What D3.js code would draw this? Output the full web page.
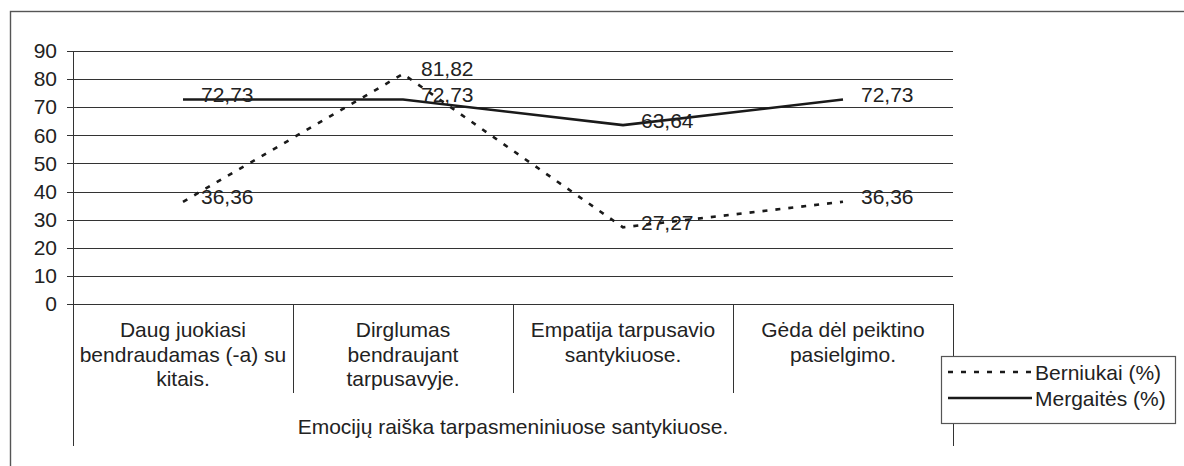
<!DOCTYPE html>
<html>
<head>
<meta charset="utf-8">
<script src="https://cdn.jsdelivr.net/npm/d3@7"></script>
<style>
  body { margin: 0; background: #fff; }
  svg text { font-family: "Liberation Sans", Arial, sans-serif; fill: #222; }
</style>
</head>
<body>
<div id="chart"></div>
<script>
// categories (one label per line)
var categories = [
	["Daug juokiasi", "bendraudamas (-a) su", "kitais."],
	["Dirglumas", "bendraujant", "tarpusavyje."],
	["Empatija tarpusavio", "santykiuose."],
	["Gėda dėl peiktino", "pasielgimo."]
];
var groupLabel = "Emocijų raiška tarpasmeniniuose santykiuose.";

var berniukai = [36.36, 81.82, 27.27, 36.36];
var mergaites = [72.73, 72.73, 63.64, 72.73];
var seriesNames = ["Berniukai (%)", "Mergaitės (%)"];
var yTicks = [0, 10, 20, 30, 40, 50, 60, 70, 80, 90];

var width = 1184,
	height = 466;

var svg = d3.select("#chart")
	.append("svg")
	.attr("width", width)
	.attr("height", height);

// outer frame (cut off on the right and bottom)
svg.append("rect")
	.attr("x", 10.5).attr("y", 11.5)
	.attr("width", 1300).attr("height", 600)
	.attr("fill", "none")
	.attr("stroke", "#555")
	.attr("stroke-width", 1.4);

var x = d3.scaleBand()
	.domain(d3.range(categories.length))
	.range([73, 953])
	.padding(0);

var y = d3.scaleLinear()
	.domain([0, 90])
	.range([304, 51]);

// grid lines
svg.append("g")
	.selectAll("line")
	.data(yTicks)
	.enter()
	.append("line")
	.attr("x1", 67).attr("x2", 953)
	.attr("y1", function(d){ return Math.round(y(d)) + 0.5; })
	.attr("y2", function(d){ return Math.round(y(d)) + 0.5; })
	.attr("stroke", "#333")
	.attr("stroke-width", 1);

// y tick labels
var yAxis = svg.append("g")
	.attr("transform", "translate(73,0)")
	.call(d3.axisLeft(y).tickValues(yTicks).tickSize(0).tickPadding(16));
yAxis.select(".domain").remove();
yAxis.selectAll("text")
	.attr("font-size", 21)
	.attr("dy", "0.32em")
	.style("font-family", "'Liberation Sans', Arial, sans-serif")
	.attr("fill", "#222");

// axis lines
svg.append("line")
	.attr("x1", 73.5).attr("x2", 73.5)
	.attr("y1", y(90)).attr("y2", 446)
	.attr("stroke", "#333");
svg.append("line")
	.attr("x1", 953.5).attr("x2", 953.5)
	.attr("y1", y(0)).attr("y2", 446)
	.attr("stroke", "#333");

// category dividers
svg.append("g")
	.selectAll("line")
	.data(d3.range(1, categories.length))
	.enter()
	.append("line")
	.attr("x1", function(d){ return Math.round(x(d)) + 0.5; })
	.attr("x2", function(d){ return Math.round(x(d)) + 0.5; })
	.attr("y1", y(0)).attr("y2", 393)
	.attr("stroke", "#333");

// category labels
svg.append("g")
	.selectAll("text")
	.data(categories)
	.enter()
	.append("text")
	.attr("text-anchor", "middle")
	.attr("font-size", 21)
	.each(function(d, i){
		var t = d3.select(this);
		d.forEach(function(line, j){
			t.append("tspan")
				.attr("x", x(i) + x.bandwidth()/2)
				.attr("y", 337 + j*24.5)
				.text(line);
		});
	});

svg.append("text")
	.attr("x", (x.range()[0] + x.range()[1]) / 2)
	.attr("y", 434)
	.attr("text-anchor", "middle")
	.attr("font-size", 21)
	.text(groupLabel);

// lines
var cx = function(d, i){ return x(i) + x.bandwidth()/2; };
var line = d3.line()
	.x(cx)
	.y(function(d){ return y(d); });

svg.append("path")
	.datum(berniukai)
	.attr("d", line)
	.attr("fill", "none")
	.attr("stroke", "#1a1a1a")
	.attr("stroke-width", 2.6)
	.attr("stroke-dasharray", "5,8");

svg.append("path")
	.datum(mergaites)
	.attr("d", line)
	.attr("fill", "none")
	.attr("stroke", "#1a1a1a")
	.attr("stroke-width", 2.6);

// data labels
function fmt(v){ return v.toFixed(2).replace(".", ","); }
[berniukai, mergaites].forEach(function(series){
	svg.append("g")
		.selectAll("text")
		.data(series)
		.enter()
		.append("text")
		.attr("x", function(d, i){ return cx(d, i) + 18; })
		.attr("y", function(d){ return y(d) + 2.5; })
		.attr("font-size", 21)
		.text(fmt);
});

// legend
var legend = svg.append("g");
legend.append("rect")
	.attr("x", 941.5).attr("y", 356.5)
	.attr("width", 234).attr("height", 67)
	.attr("fill", "#fff")
	.attr("stroke", "#555")
	.attr("stroke-width", 1.2);

var legendRows = [372, 398];
legend.selectAll("line")
	.data(seriesNames)
	.enter()
	.append("line")
	.attr("x1", 948).attr("x2", 1032)
	.attr("y1", function(d, i){ return legendRows[i]; })
	.attr("y2", function(d, i){ return legendRows[i]; })
	.attr("stroke", "#1a1a1a")
	.attr("stroke-width", 2.6)
	.attr("stroke-dasharray", function(d, i){ return i === 0 ? "5,8" : null; });

legend.selectAll("text")
	.data(seriesNames)
	.enter()
	.append("text")
	.attr("x", 1035)
	.attr("y", function(d, i){ return legendRows[i] + 7.5; })
	.attr("font-size", 21)
	.text(function(d){ return d; });
</script>
</body>
</html>
